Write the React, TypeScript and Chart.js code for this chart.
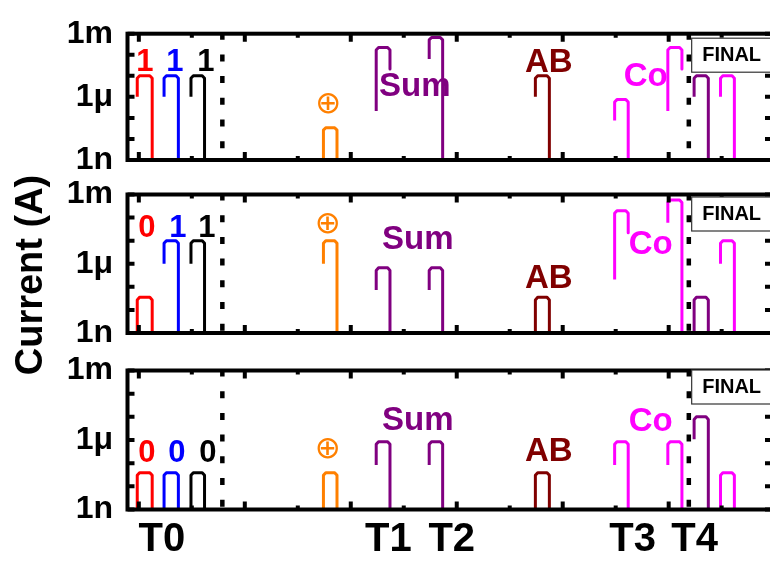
import { useEffect, useRef } from "react";
import { Chart, registerables } from "chart.js";
Chart.register(...registerables);

const FONT = "'Liberation Sans', Arial, Helvetica, sans-serif";

// ---- time axis (arbitrary units) ----
const X_MIN = -1.07;
const X_MAX = 59.75;
const X_TICK_STEP = 5;
const DOTTED_X = [7.88, 51.9];
const PHASE_LABELS = ["T0", "T1", "T2", "T3", "T4"];
const PHASE_X = [2.17, 23.54, 29.53, 46.6, 52.45];

// ---- current axis ----
const Y_TICKS = [1e-9, 1e-8, 1e-7, 1e-6, 1e-5, 1e-4, 1e-3];
const Y_TICK_LABELS = ["1n", "", "", "1μ", "", "", "1m"];

// ---- pulses (shared timing) ----
const PULSE_START = [-0.15, 2.38, 4.92, 17.42, 22.4, 27.4, 37.42, 44.9, 49.92, 52.4, 54.89];
const PULSE_END = [1.26, 3.73, 6.2, 18.7, 23.7, 28.67, 38.74, 46.18, 51.25, 53.74, 56.2];
const PULSE_COLORS = ["#ff0000", "#0000ff", "#000000", "#ff8000", "#800080", "#800080", "#800000", "#ff00ff", "#ff00ff", "#800080", "#ff00ff"];

// panel 1
const P1_RISE_FROM = [1e-6, 1e-6, 1e-6, 1e-9, 2.1e-7, 6.3e-5, 1e-6, 7.5e-8, 2.1e-7, 1e-6, 1e-6];
const P1_PEAK = [1e-5, 1e-5, 1e-5, 3.4e-8, 2.2e-4, 6.6e-4, 1e-5, 7.4e-7, 2.2e-4, 1e-5, 1e-5];
const P1_FALL_TO = [1e-9, 1e-9, 1e-9, 1e-9, 2.1e-5, 1e-9, 1e-9, 1e-9, 2.1e-5, 1e-9, 1e-9];
// panel 2
const P2_RISE_FROM = [1e-9, 1e-6, 1e-6, 1e-6, 7.3e-8, 7.3e-8, 1e-9, 2.1e-7, 6e-5, 1e-9, 1e-6];
const P2_PEAK = [3.5e-8, 1e-5, 1e-5, 1e-5, 6.7e-7, 6.7e-7, 3.5e-8, 2e-4, 5.8e-4, 3.5e-8, 1e-5];
const P2_FALL_TO = [1e-9, 1e-9, 1e-9, 1e-9, 1e-9, 1e-9, 1e-9, 2.2e-5, 1e-9, 1e-9, 1e-9];
// panel 3
const P3_RISE_FROM = [1e-9, 1e-9, 1e-9, 1e-9, 8.3e-8, 8.3e-8, 1e-9, 8.3e-8, 8.3e-8, 1.07e-6, 1e-9];
const P3_PEAK = [3.9e-8, 3.9e-8, 3.9e-8, 3.9e-8, 8.5e-7, 8.5e-7, 3.9e-8, 8.5e-7, 8.5e-7, 1e-5, 3.9e-8];
const P3_FALL_TO = [1e-9, 1e-9, 1e-9, 1e-9, 1e-9, 1e-9, 1e-9, 1e-9, 1e-9, 1e-9, 1e-9];

// ---- annotations ----
const LABEL_COLORS = ["#ff0000", "#0000ff", "#000000", "#ff8000", "#800080", "#800000", "#ff00ff"];
const P1_LABELS = ["1", "1", "1", "⊕", "Sum", "AB", "Co"];
const P1_LABEL_X = [0.57, 3.4, 6.32, 17.88, 26.04, 38.68, 47.83];
const P1_LABEL_Y = [4.2e-5, 4.2e-5, 4.2e-5, 4.2e-7, 3.1e-6, 4.2e-5, 8.5e-6];
const P2_LABELS = ["0", "1", "1", "⊕", "Sum", "AB", "Co"];
const P2_LABEL_X = [0.75, 3.68, 6.42, 17.83, 26.32, 38.68, 48.3];
const P2_LABEL_Y = [3.5e-5, 3.5e-5, 3.5e-5, 4.8e-5, 1.07e-5, 2.2e-7, 6.5e-6];
const P3_LABELS = ["0", "0", "0", "⊕", "Sum", "AB", "Co"];
const P3_LABEL_X = [0.75, 3.58, 6.51, 17.83, 26.32, 38.68, 48.3];
const P3_LABEL_Y = [2.75e-7, 2.75e-7, 2.75e-7, 3.7e-7, 6.6e-6, 3e-7, 6e-6];
const FINAL_TEXT = "FINAL";
const FINAL_X = 52.17;
const Y_TITLE = "Current (A)";

const W = 780;
const H = 563;

type PanelCfg = {
  top: number;
  bottom: number;
  rise: number[];
  peak: number[];
  fall: number[];
  labels: string[];
  lx: number[];
  ly: number[];
  boxTop: number;
  showX: boolean;
  title: boolean;
};

const PANELS: PanelCfg[] = [
  { top: 22.5, bottom: 160, rise: P1_RISE_FROM, peak: P1_PEAK, fall: P1_FALL_TO, labels: P1_LABELS, lx: P1_LABEL_X, ly: P1_LABEL_Y, boxTop: 4.5, showX: false, title: false },
  { top: 194.5, bottom: 333, rise: P2_RISE_FROM, peak: P2_PEAK, fall: P2_FALL_TO, labels: P2_LABELS, lx: P2_LABEL_X, ly: P2_LABEL_Y, boxTop: 2.5, showX: false, title: true },
  { top: 370.5, bottom: 509.5, rise: P3_RISE_FROM, peak: P3_PEAK, fall: P3_FALL_TO, labels: P3_LABELS, lx: P3_LABEL_X, ly: P3_LABEL_Y, boxTop: -0.5, showX: true, title: false },
];

function pulsePoints(s: number, e: number, from: number, peak: number, to: number) {
  const k = 1.3;
  const d = 0.22;
  return [
    { x: s, y: from },
    { x: s, y: peak / k },
    { x: s + d, y: peak },
    { x: e - d, y: peak },
    { x: e, y: peak / k },
    { x: e, y: to },
  ];
}

function labelFont(i: number) {
  if (i <= 2) return `bold 31px ${FONT}`;
  if (i === 3) return `31px 'DejaVu Sans', sans-serif`;
  return `bold 33px ${FONT}`;
}

function makeConfig(p: PanelCfg): any {
  const datasets = PULSE_START.map((s, i) => ({
    data: pulsePoints(s, PULSE_END[i], p.rise[i], p.peak[i], p.fall[i]),
    borderColor: PULSE_COLORS[i],
    borderWidth: 3,
    pointRadius: 0,
    tension: 0,
    fill: false,
    borderJoinStyle: "round",
    borderCapStyle: "butt",
  }));

  const decor = {
    id: "decor",
    beforeDatasetsDraw(chart: any) {
      const { ctx, chartArea, scales } = chart;
      ctx.save();
      ctx.strokeStyle = "#000";
      ctx.lineWidth = 4.5;
      ctx.setLineDash([7, 14.7]);
      for (const v of DOTTED_X) {
        const px = scales.x.getPixelForValue(v);
        ctx.beginPath();
        ctx.moveTo(px, chartArea.top - 1);
        ctx.lineTo(px, chartArea.bottom);
        ctx.stroke();
      }
      ctx.restore();
    },
    afterDatasetsDraw(chart: any) {
      const { ctx, scales } = chart;
      ctx.save();
      ctx.textAlign = "center";
      ctx.textBaseline = "middle";
      p.labels.forEach((t, i) => {
        ctx.font = labelFont(i);
        ctx.fillStyle = LABEL_COLORS[i];
        ctx.fillText(t, scales.x.getPixelForValue(p.lx[i]), scales.y.getPixelForValue(p.ly[i]));
      });
      ctx.restore();
    },
    afterDraw(chart: any) {
      const { ctx, chartArea, scales } = chart;
      const { left, right, top, bottom } = chartArea;
      ctx.save();
      ctx.strokeStyle = "#000";
      ctx.lineWidth = 4;
      ctx.lineCap = "butt";
      for (let v = Math.ceil(X_MIN / X_TICK_STEP) * X_TICK_STEP; v <= X_MAX; v += X_TICK_STEP) {
        const px = scales.x.getPixelForValue(v);
        const len = Math.round(v / X_TICK_STEP) % 2 === 0 ? 8 : 4;
        ctx.beginPath();
        ctx.moveTo(px, top);
        ctx.lineTo(px, top + len);
        ctx.moveTo(px, bottom);
        ctx.lineTo(px, bottom - len);
        ctx.stroke();
      }
      for (const v of Y_TICKS) {
        const py = scales.y.getPixelForValue(v);
        ctx.beginPath();
        ctx.moveTo(left, py);
        ctx.lineTo(left + 7, py);
        ctx.moveTo(right, py);
        ctx.lineTo(right - 7, py);
        ctx.stroke();
      }
      ctx.strokeRect(left, top, right - left, bottom - top);

      // FINAL box (drawn over the frame ticks)
      const bx = scales.x.getPixelForValue(FINAL_X);
      const by = top + p.boxTop;
      const bh = 34;
      ctx.fillStyle = "#fff";
      ctx.fillRect(bx, by, 120, bh);
      ctx.strokeStyle = "#333";
      ctx.lineWidth = 1.2;
      ctx.strokeRect(bx, by, 120, bh);
      ctx.fillStyle = "#000";
      ctx.font = `bold 20px ${FONT}`;
      ctx.textAlign = "left";
      ctx.textBaseline = "middle";
      ctx.fillText(FINAL_TEXT, bx + 10.5, by + bh / 2 + 0.5);

      if (p.title) {
        ctx.translate(32, 275);
        ctx.rotate(-Math.PI / 2);
        ctx.fillStyle = "#000";
        ctx.font = `bold 38px ${FONT}`;
        ctx.textAlign = "center";
        ctx.textBaseline = "middle";
        ctx.fillText(Y_TITLE, 0, 0);
      }
      ctx.restore();
    },
  };

  return {
    type: "line",
    data: { datasets },
    plugins: [decor],
    options: {
      animation: false,
      responsive: false,
      devicePixelRatio: 1,
      events: [],
      layout: {
        padding: { left: 0, right: 8, top: p.top, bottom: p.showX ? 0 : H - p.bottom },
      },
      plugins: { legend: { display: false }, tooltip: { enabled: false } },
      scales: {
        x: {
          type: "linear",
          min: X_MIN,
          max: X_MAX,
          display: p.showX,
          grid: { display: false, drawTicks: false },
          border: { display: false },
          afterBuildTicks: (s: any) => {
            s.ticks = PHASE_X.map((v) => ({ value: v }));
          },
          afterFit: (s: any) => {
            s.height = p.showX ? H - p.bottom : 0;
          },
          ticks: {
            autoSkip: false,
            maxRotation: 0,
            padding: 6.5,
            color: "#000",
            font: { family: FONT, size: 40, weight: "bold" },
            callback: (_v: any, i: number) => PHASE_LABELS[i],
          },
        },
        y: {
          type: "logarithmic",
          min: 1e-9,
          max: 1e-3,
          grid: { display: false, drawTicks: false },
          border: { display: false },
          afterBuildTicks: (s: any) => {
            s.ticks = Y_TICKS.map((v) => ({ value: v }));
          },
          afterFit: (s: any) => {
            s.width = 127.5;
          },
          ticks: {
            autoSkip: false,
            padding: 14.5,
            color: "#000",
            font: { family: FONT, size: 32, weight: "bold" },
            callback: (_v: any, i: number) => Y_TICK_LABELS[i],
          },
        },
      },
    },
  };
}

function Panel({ cfg }: { cfg: PanelCfg }) {
  const ref = useRef<HTMLCanvasElement>(null);
  useEffect(() => {
    const chart = new Chart(ref.current as HTMLCanvasElement, makeConfig(cfg));
    return () => chart.destroy();
  }, [cfg]);
  return (
    <canvas
      ref={ref}
      width={W}
      height={H}
      style={{ position: "absolute", left: 0, top: 0, width: W, height: H }}
    />
  );
}

export default function App() {
  return (
    <div style={{ position: "fixed", left: 0, top: 0, width: 770, height: 563, overflow: "hidden", background: "#fff" }}>
      {PANELS.map((p, i) => (
        <Panel key={i} cfg={p} />
      ))}
    </div>
  );
}
